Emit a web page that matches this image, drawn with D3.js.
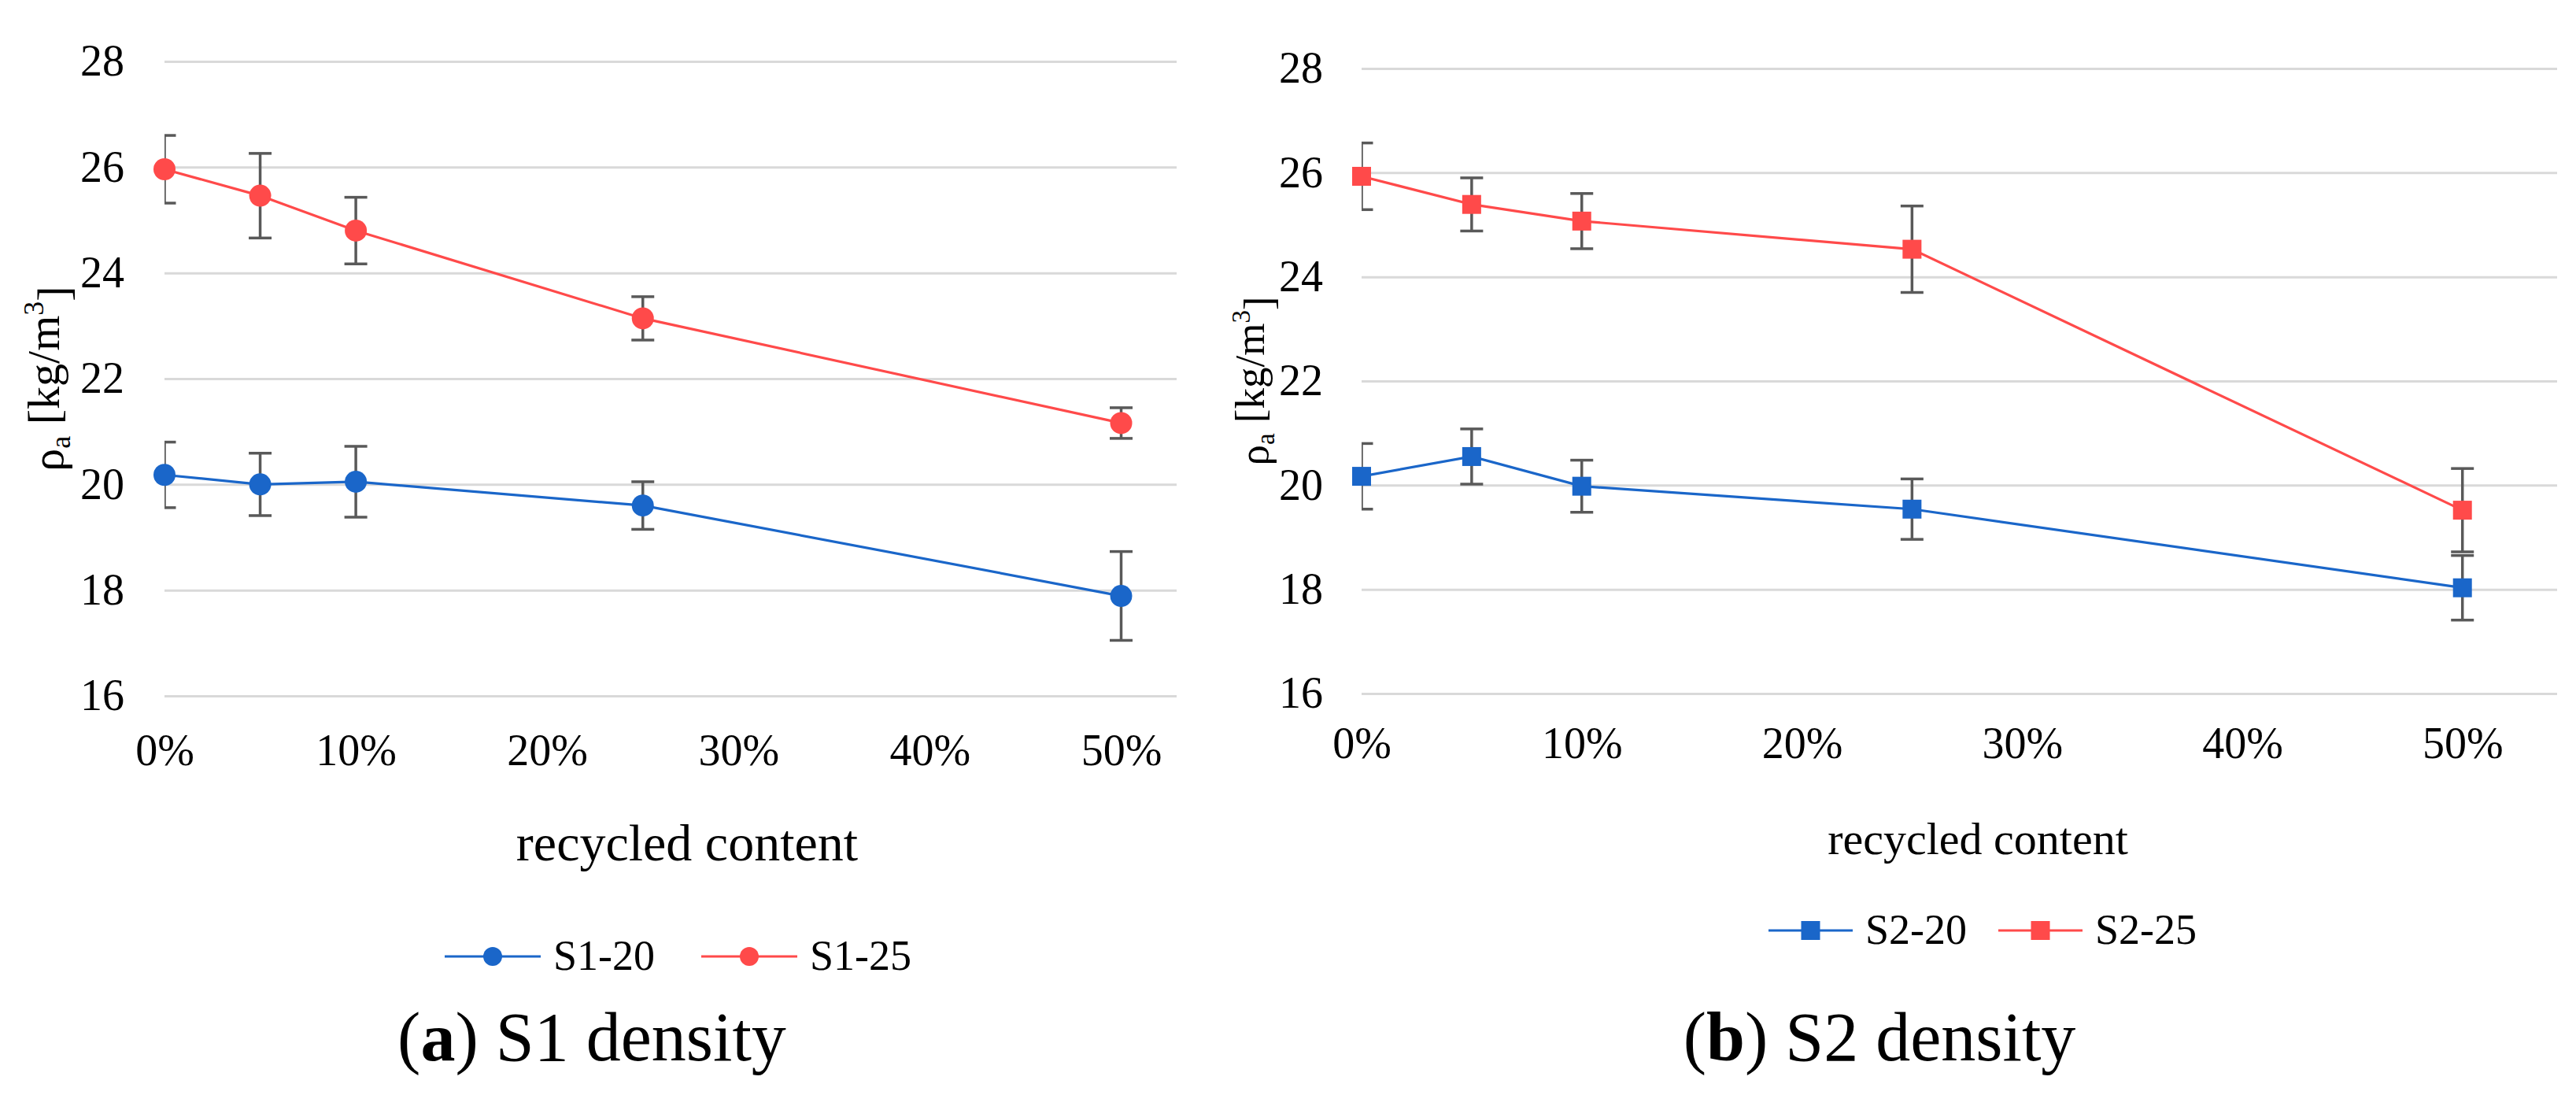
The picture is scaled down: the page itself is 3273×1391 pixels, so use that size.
<!DOCTYPE html>
<html>
<head>
<meta charset="utf-8">
<script src="https://cdn.jsdelivr.net/npm/d3@7"></script>
<style>
  body { margin: 0; background: #fff; }
  text { font-family: "Liberation Serif", "DejaVu Serif", serif; fill: #000; }
</style>
</head>
<body>
<div id="chart"></div>
<script>
// recycled content (x) shared by both panels
const recycled = [0, 0.05, 0.10, 0.25, 0.50];
const xTicks = [0, 0.1, 0.2, 0.3, 0.4, 0.5];
const yTicks = [16, 18, 20, 22, 24, 26, 28];

// S1 density
const s1_20 = [20.18, 20.00, 20.05, 19.60, 17.89];
const s1_20_err = [0.62, 0.59, 0.67, 0.45, 0.84];
const s1_25 = [25.96, 25.46, 24.80, 23.14, 21.16];
const s1_25_err = [0.64, 0.80, 0.63, 0.41, 0.29];

// S2 density
const s2_20 = [20.17, 20.55, 19.98, 19.54, 18.03];
const s2_20_err = [0.63, 0.53, 0.50, 0.58, 0.62];
const s2_25 = [25.93, 25.39, 25.07, 24.53, 19.52];
const s2_25_err = [0.64, 0.51, 0.53, 0.83, 0.80];

const BLUE = "#1a66c9", RED = "#ff4a4a", ERR = "#595959", GRID = "#d9d9d9";

const svg = d3.select("#chart").append("svg")
    .attr("width", 3273)
    .attr("height", 1391);

const defs = svg.append("defs");

function drawPanel(p) {
    const x = d3.scaleLinear().domain(p.xDomain).range([p.left, p.right]);
    const y = d3.scaleLinear().domain([16, 28]).range([p.bottom, p.top]);
    const g = svg.append("g");

    // gridlines + y tick labels
    const yAxis = g.append("g")
        .attr("transform", `translate(${p.left},0)`)
        .call(d3.axisLeft(y).tickValues(yTicks).tickSize(-(p.right - p.left)).tickPadding(p.yPad));
    yAxis.select(".domain").remove();
    yAxis.selectAll("line").attr("stroke", GRID).attr("stroke-width", 3);
    yAxis.selectAll("text")
        .attr("font-family", "Liberation Serif")
        .attr("font-size", 56)
        .attr("fill", "#000");

    // x tick labels
    const xAxis = g.append("g")
        .attr("transform", `translate(0,${p.bottom})`)
        .call(d3.axisBottom(x).tickValues(xTicks).tickSize(0).tickFormat(d3.format(".0%")));
    xAxis.select(".domain").remove();
    xAxis.selectAll("text")
        .attr("y", p.xLabelOffset)
        .attr("dy", null)
        .attr("font-family", "Liberation Serif")
        .attr("font-size", 56)
        .attr("fill", "#000");

    // y axis title
    const yt = g.append("text")
        .attr("transform", `translate(${p.yTitleX},${(p.top + p.bottom) / 2}) rotate(-90)`)
        .attr("text-anchor", "middle")
        .attr("font-size", p.yTitleSize);
    yt.append("tspan").text("ρ");
    yt.append("tspan").text("a").attr("font-size", p.yTitleSize * 0.62).attr("dy", "0.25em");
    yt.append("tspan").text(" [kg/m").attr("dy", "-0.25em");
    yt.append("tspan").text("3").attr("font-size", p.yTitleSize * 0.62).attr("dy", "-0.55em");
    yt.append("tspan").text("]").attr("dy", "0.55em");

    // x axis title
    g.append("text")
        .attr("x", p.xTitleX)
        .attr("y", p.xTitleY)
        .attr("text-anchor", "middle")
        .attr("font-size", p.xTitleSize)
        .text("recycled content");

    const clipId = "clip-" + p.id;
    defs.append("clipPath").attr("id", clipId)
        .append("rect")
        .attr("x", p.left).attr("y", 0)
        .attr("width", p.right - p.left).attr("height", 1391);

    const line = d3.line().x((d, i) => x(recycled[i])).y(d => y(d));

    p.series.forEach(s => {
        // error bars
        const eb = g.append("g").attr("clip-path", `url(#${clipId})`)
            .attr("stroke", ERR).attr("stroke-width", 3.5);
        s.values.forEach((v, i) => {
            const cx = x(recycled[i]);
            const y1 = y(v + s.err[i]), y0 = y(v - s.err[i]);
            eb.append("line").attr("x1", cx).attr("x2", cx).attr("y1", y1).attr("y2", y0);
            eb.append("line").attr("x1", cx - 14.5).attr("x2", cx + 14.5).attr("y1", y1).attr("y2", y1);
            eb.append("line").attr("x1", cx - 14.5).attr("x2", cx + 14.5).attr("y1", y0).attr("y2", y0);
        });

        g.append("path")
            .datum(s.values)
            .attr("fill", "none")
            .attr("stroke", s.color)
            .attr("stroke-width", 3.2)
            .attr("d", line);

        const m = g.append("g").attr("fill", s.color);
        if (p.marker === "circle") {
            m.selectAll("circle").data(s.values).join("circle")
                .attr("cx", (d, i) => x(recycled[i]))
                .attr("cy", d => y(d))
                .attr("r", 14);
        } else {
            m.selectAll("rect").data(s.values).join("rect")
                .attr("x", (d, i) => x(recycled[i]) - 12)
                .attr("y", d => y(d) - 12)
                .attr("width", 24).attr("height", 24);
        }
    });

    // legend
    p.series.forEach((s, k) => {
        const lx = p.legend[k];
        const lg = g.append("g");
        lg.append("line")
            .attr("x1", lx).attr("x2", lx + p.legendLine)
            .attr("y1", p.legendY).attr("y2", p.legendY)
            .attr("stroke", s.color).attr("stroke-width", 3.2);
        const mx = lx + p.legendLine / 2;
        if (p.marker === "circle") {
            lg.append("circle").attr("cx", mx).attr("cy", p.legendY).attr("r", 12).attr("fill", s.color);
        } else {
            lg.append("rect").attr("x", mx - 12).attr("y", p.legendY - 12)
                .attr("width", 24).attr("height", 24).attr("fill", s.color);
        }
        lg.append("text")
            .attr("x", lx + p.legendLine + 16)
            .attr("y", p.legendY + 17)
            .attr("font-size", 54)
            .text(s.name);
    });

    // caption
    const cap = g.append("text")
        .attr("x", p.capX)
        .attr("y", 1347)
        .attr("text-anchor", "middle")
        .attr("font-size", 88);
    cap.append("tspan").text("(");
    cap.append("tspan").text(p.capLetter).attr("font-weight", "bold");
    cap.append("tspan").text(") " + p.capText);
}

drawPanel({
    id: "a",
    left: 209, right: 1495, top: 78, bottom: 884,
    xDomain: [0, 0.529],
    yPad: 51, xLabelOffset: 88,
    yTitleX: 80, yTitleSize: 58,
    xTitleX: 873, xTitleY: 1093, xTitleSize: 66,
    marker: "circle",
    legend: [565, 891], legendLine: 122, legendY: 1215,
    capX: 752, capLetter: "a", capText: "S1 density",
    series: [
        { name: "S1-20", values: s1_20, err: s1_20_err, color: BLUE },
        { name: "S1-25", values: s1_25, err: s1_25_err, color: RED }
    ]
});

drawPanel({
    id: "b",
    left: 1730, right: 3249, top: 87, bottom: 881,
    xDomain: [0, 0.543],
    yPad: 49, xLabelOffset: 82,
    yTitleX: 1611, yTitleSize: 53,
    xTitleX: 2513, xTitleY: 1085, xTitleSize: 58,
    marker: "square",
    legend: [2247, 2539], legendLine: 107, legendY: 1182,
    capX: 2388, capLetter: "b", capText: "S2 density",
    series: [
        { name: "S2-20", values: s2_20, err: s2_20_err, color: BLUE },
        { name: "S2-25", values: s2_25, err: s2_25_err, color: RED }
    ]
});
</script>
</body>
</html>
